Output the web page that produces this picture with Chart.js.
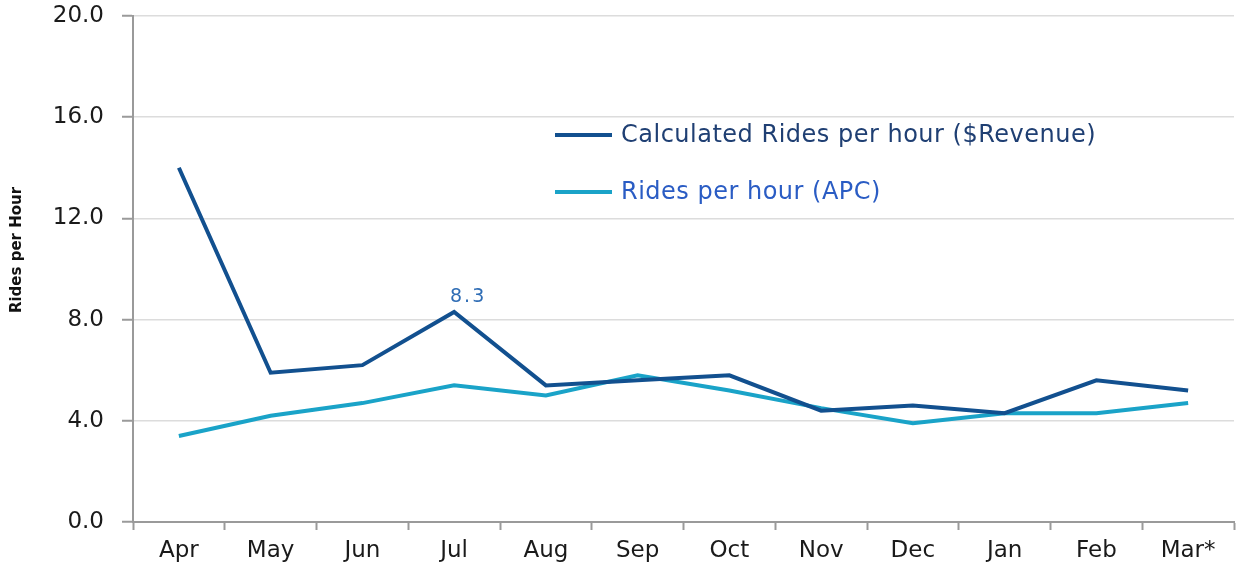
<!DOCTYPE html>
<html>
<head>
<meta charset="utf-8">
<script src="https://cdn.jsdelivr.net/npm/chart.js@4.4.1/dist/chart.umd.min.js"></script>
<style>
  html, body { margin: 0; padding: 0; background: #ffffff; }
  #wrap { width: 1237px; height: 571px; position: relative; }
</style>
</head>
<body>
<div id="wrap"><canvas id="c" width="1237" height="571"></canvas></div>
<script>
const categories = ["Apr", "May", "Jun", "Jul", "Aug", "Sep", "Oct", "Nov", "Dec", "Jan", "Feb", "Mar*"];
const revenueRides = [14.0, 5.9, 6.2, 8.3, 5.4, 5.6, 5.8, 4.4, 4.6, 4.3, 5.6, 5.2];
const apcRides = [3.4, 4.2, 4.7, 5.4, 5.0, 5.8, 5.2, 4.5, 3.9, 4.3, 4.3, 4.7];
const yTicks = [0, 4, 8, 12, 16, 20];
const seriesNames = ["Calculated Rides per hour ($Revenue)", "Rides per hour (APC)"];
const yTitle = "Rides per Hour";
const labelIndex = 3;

const FONT = "'DejaVu Sans', Verdana, sans-serif";

const legendPlugin = {
  id: 'insideLegend',
  afterDraw(chart) {
    const ctx = chart.ctx;
    const items = [
      { text: seriesNames[0], color: chart.data.datasets[0].borderColor, textColor: '#1f3f73', y: 135 },
      { text: seriesNames[1], color: chart.data.datasets[1].borderColor, textColor: '#2a5cc4', y: 192 }
    ];
    ctx.save();
    ctx.font = "24px " + FONT;
    ctx.letterSpacing = '0.5px';
    ctx.textBaseline = 'middle';
    items.forEach(it => {
      ctx.strokeStyle = it.color;
      ctx.lineWidth = 4;
      ctx.beginPath();
      ctx.moveTo(555, it.y);
      ctx.lineTo(612, it.y);
      ctx.stroke();
      ctx.fillStyle = it.textColor;
      ctx.fillText(it.text, 621, it.y + 1);
    });
    ctx.restore();
  }
};

const titlePlugin = {
  id: 'yTitle',
  afterDraw(chart) {
    const ctx = chart.ctx;
    ctx.save();
    ctx.translate(17, 250);
    ctx.rotate(-Math.PI / 2);
    ctx.font = "bold 15px " + FONT;
    ctx.fillStyle = '#111111';
    ctx.textAlign = 'center';
    ctx.textBaseline = 'middle';
    ctx.fillText(yTitle, 0, 0);
    ctx.restore();
  }
};

const dataLabelPlugin = {
  id: 'dataLabel',
  afterDatasetsDraw(chart) {
    const meta = chart.getDatasetMeta(0);
    const pt = meta.data[labelIndex];
    const ctx = chart.ctx;
    ctx.save();
    ctx.font = "19px " + FONT;
    ctx.letterSpacing = '2px';
    ctx.fillStyle = '#2f6db5';
    ctx.textAlign = 'center';
    ctx.textBaseline = 'alphabetic';
    ctx.fillText(revenueRides[labelIndex].toFixed(1), pt.x + 14, pt.y - 10);
    ctx.restore();
  }
};

new Chart(document.getElementById('c'), {
  type: 'line',
  data: {
    labels: categories,
    datasets: [
      {
        label: seriesNames[0],
        data: revenueRides,
        borderColor: '#12508f',
        borderWidth: 4,
        pointRadius: 0,
        tension: 0,
        fill: false
      },
      {
        label: seriesNames[1],
        data: apcRides,
        borderColor: '#1aa3c8',
        borderWidth: 4,
        pointRadius: 0,
        tension: 0,
        fill: false
      }
    ]
  },
  options: {
    responsive: false,
    animation: false,
    devicePixelRatio: 1,
    layout: { padding: { top: 16, right: 3, left: 4, bottom: 0 } },
    plugins: {
      legend: { display: false },
      tooltip: { enabled: false }
    },
    scales: {
      x: {
        offset: true,
        grid: {
          offset: true,
          drawOnChartArea: false,
          tickLength: 8,
          tickColor: '#9a9a9a',
          tickWidth: 2
        },
        border: { color: '#9a9a9a', width: 2 },
        ticks: {
          color: '#1a1a1a',
          font: { family: FONT, size: 23 },
          padding: 7,
          maxRotation: 0,
          autoSkip: false
        },
        afterFit(scale) { scale.height = 49; scale.paddingLeft = 0; scale.paddingRight = 0; }
      },
      y: {
        min: 0,
        max: 20,
        afterBuildTicks(scale) { scale.ticks = yTicks.map(v => ({ value: v })); },
        grid: {
          color: '#dcdcdc',
          lineWidth: 1.5,
          tickLength: 11,
          tickColor: '#9a9a9a',
          tickWidth: 2
        },
        border: { color: '#9a9a9a', width: 2 },
        ticks: {
          color: '#1a1a1a',
          font: { family: FONT, size: 23 },
          padding: 18,
          callback: v => Number(v).toFixed(1)
        },
        afterFit(scale) { scale.width = 129; scale.paddingTop = 0; scale.paddingBottom = 0; }
      }
    }
  },
  plugins: [legendPlugin, dataLabelPlugin, titlePlugin]
});
</script>
</body>
</html>
